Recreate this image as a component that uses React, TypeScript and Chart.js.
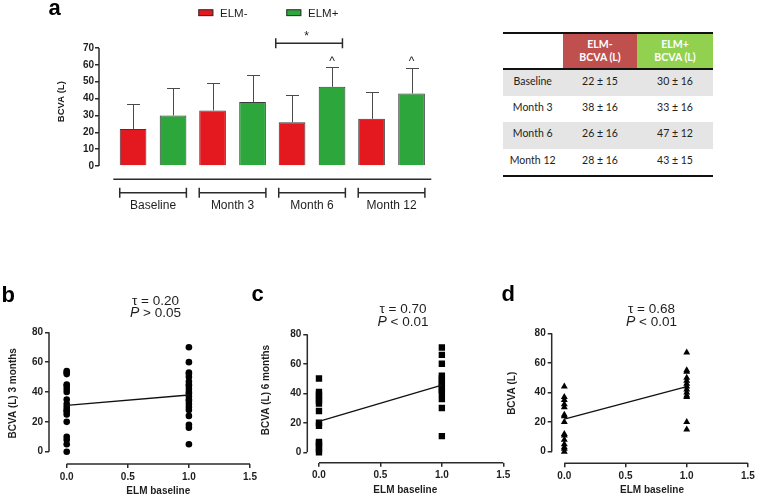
import React, { useEffect, useRef } from 'react';
import { Chart, registerables } from 'chart.js';

Chart.register(...registerables);

const FONT = '"Liberation Sans", Arial, Helvetica, sans-serif';
const TABLE_FONT = 'Lato, "Open Sans", sans-serif';
const INK = '#1e1e1e';
const AXIS = '#2b2b2b';
const RED = '#e3191f';
const GREEN = '#2da63b';

// ---- panel a: BCVA per visit, split by ELM status (mean and SD) ----
const visits = ['Baseline', 'Month 3', 'Month 6', 'Month 12'];
const elmNegMean = [22, 33, 26, 28];
const elmNegSd = [15, 16, 16, 16];
const elmPosMean = [30, 38, 47, 43];
const elmPosSd = [16, 16, 12, 15];
const barTicks = [0, 10, 20, 30, 40, 50, 60, 70];
const starVisits = [2]; // ELM- vs ELM+ compared with a bracket and *
const caretVisits = [2, 3]; // ELM+ bars flagged with ^

// ---- summary table ----
const tableHeaders = [
  ['ELM-', 'BCVA (L)'],
  ['ELM+', 'BCVA (L)'],
];
const tableVisits = ['Baseline', 'Month 3', 'Month 6', 'Month 12'];
const tableElmNeg = ['22 ± 15', '38 ± 16', '26 ± 16', '28 ± 16'];
const tableElmPos = ['30 ± 16', '33 ± 16', '47 ± 12', '43 ± 15'];

// ---- panels b-d: BCVA against baseline ELM (0 = absent, 1 = present) ----
const elmTicks = [0, 0.5, 1.0, 1.5];
const scatterTicks = [0, 20, 40, 60, 80];

const month3Absent = [0, 5, 8, 10, 20, 25, 27, 28, 30, 32, 35, 40, 42, 44, 45, 52, 53, 54];
const month3Present = [5, 16, 18, 24, 28, 30, 32, 34, 35, 37, 39, 40, 42, 44, 45, 47, 50, 52, 53, 60, 70];
const month3Fit = [31, 38];

const month6Absent = [0, 2, 4, 6, 7, 18, 20, 28, 33, 35, 37, 39, 41, 50];
const month6Present = [11, 30, 36, 40, 42, 44, 46, 48, 50, 52, 60, 66, 71];
const month6Fit = [21, 45.5];

const finalAbsent = [0, 2, 3, 5, 8, 11, 12, 20, 24, 25, 30, 32, 35, 37, 44];
const finalPresent = [15, 20, 37, 38, 40, 42, 44, 46, 48, 50, 54, 55, 67];
const finalFit = [22, 44];

const kendallTau = ['0.20', '0.70', '0.68'];
const pValues = ['> 0.05', '< 0.01', '< 0.01'];

const ticksFrom = (values: number[]) => (axis: any) => {
  axis.ticks = values.map((v) => ({ value: v }));
};

// error bars, legend, significance marks and the grouped category axis
const barDecor = {
  id: 'barDecor',
  afterDatasetsDraw(chart: any) {
    const { ctx } = chart;
    const y = chart.scales.y;
    ctx.save();
    ctx.strokeStyle = '#4a4a4a';
    ctx.lineWidth = 1;
    chart.data.datasets.forEach((ds: any, di: number) => {
      chart.getDatasetMeta(di).data.forEach((bar: any, i: number) => {
        const mean = ds.data[i].y;
        const yTop = Math.round(y.getPixelForValue(mean + ds.sd[i])) + 0.5;
        const xc = Math.round(bar.x) + 0.5;
        ctx.beginPath();
        ctx.moveTo(xc, bar.y);
        ctx.lineTo(xc, yTop);
        ctx.moveTo(xc - 6.5, yTop);
        ctx.lineTo(xc + 6.5, yTop);
        ctx.stroke();
      });
    });
    ctx.restore();
  },
  afterDraw(chart: any) {
    const { ctx, chartArea } = chart;
    const x = chart.scales.x;
    const y = chart.scales.y;
    const neg = chart.getDatasetMeta(0).data;
    const pos = chart.getDatasetMeta(1).data;
    ctx.save();

    // value axis line, 0..70
    ctx.strokeStyle = AXIS;
    ctx.lineWidth = 1.5;
    ctx.beginPath();
    ctx.moveTo(chartArea.left, y.getPixelForValue(barTicks[0]));
    ctx.lineTo(chartArea.left, y.getPixelForValue(barTicks[barTicks.length - 1]));
    ctx.stroke();

    // panel letter
    ctx.fillStyle = '#000';
    ctx.font = `bold 22px ${FONT}`;
    ctx.textAlign = 'left';
    ctx.textBaseline = 'alphabetic';
    ctx.fillText('a', 48.6, 15);

    // legend
    const legendX = [198.3, 286.3];
    chart.data.datasets.forEach((ds: any, i: number) => {
      const bx = legendX[i];
      ctx.fillStyle = ds.backgroundColor;
      ctx.fillRect(bx, 9.3, 15, 6.8);
      ctx.strokeStyle = '#333';
      ctx.lineWidth = 1;
      ctx.strokeRect(bx + 0.5, 9.8, 14, 5.8);
      ctx.fillStyle = INK;
      ctx.font = `11.5px ${FONT}`;
      ctx.fillText(ds.label, bx + 21.7, 16.7);
    });

    // significance bracket with *
    ctx.strokeStyle = AXIS;
    ctx.lineWidth = 1.5;
    ctx.fillStyle = INK;
    starVisits.forEach((i) => {
      const l = neg[i].x - 16.3;
      const r = pos[i].x + 10.4;
      const by = 43.3;
      ctx.beginPath();
      ctx.moveTo(l, by);
      ctx.lineTo(r, by);
      ctx.moveTo(l, by - 5);
      ctx.lineTo(l, by + 5);
      ctx.moveTo(r, by - 5);
      ctx.lineTo(r, by + 5);
      ctx.stroke();
      ctx.font = `12px ${FONT}`;
      ctx.textAlign = 'center';
      ctx.fillText('*', (l + r) / 2 - 2.6, 40);
    });
    caretVisits.forEach((i) => {
      ctx.font = `12px ${FONT}`;
      ctx.textAlign = 'center';
      ctx.fillText('^', pos[i].x, 64.5);
    });

    // grouped category axis
    const lineY = 179.3;
    ctx.beginPath();
    ctx.moveTo(x.getPixelForValue(-0.5), lineY);
    ctx.lineTo(x.getPixelForValue(visits.length - 0.5), lineY);
    ctx.stroke();
    visits.forEach((label, i) => {
      const l = neg[i].x - neg[i].width / 2;
      const r = pos[i].x + pos[i].width / 2;
      const by = 192.7;
      ctx.beginPath();
      ctx.moveTo(l, by);
      ctx.lineTo(r, by);
      ctx.moveTo(l, by - 5);
      ctx.lineTo(l, by + 5);
      ctx.moveTo(r, by - 5);
      ctx.lineTo(r, by + 5);
      ctx.stroke();
      ctx.font = `12px ${FONT}`;
      ctx.textAlign = 'center';
      ctx.textBaseline = 'alphabetic';
      ctx.fillStyle = INK;
      ctx.fillText(label, x.getPixelForValue(i), 209.3);
    });
    ctx.restore();
  },
};

function buildBarConfig(): any {
  const series = (means: number[]) => visits.map((_, i) => ({ x: i, y: means[i] }));
  const common = {
    borderColor: '#3a3a3a',
    borderWidth: 1,
    categoryPercentage: 1.006,
    barPercentage: 0.667,
  };
  return {
    type: 'bar',
    data: {
      datasets: [
        { label: 'ELM-', data: series(elmNegMean), sd: elmNegSd, backgroundColor: RED, ...common },
        { label: 'ELM+', data: series(elmPosMean), sd: elmPosSd, backgroundColor: GREEN, ...common },
      ],
    },
    options: {
      responsive: false,
      animation: false,
      events: [],
      layout: { padding: { left: 0, top: 37.4, right: 48.7, bottom: 59 } },
      scales: {
        x: {
          type: 'linear',
          display: false,
          offset: false,
          grid: { offset: false },
          min: -0.68,
          max: 3.5,
          afterBuildTicks: ticksFrom(visits.map((_, i) => i)),
        },
        y: {
          min: 0,
          max: 76.3,
          afterBuildTicks: ticksFrom(barTicks),
          afterFit: (axis: any) => {
            axis.width = 99;
          },
          border: { display: false },
          grid: { drawOnChartArea: false, drawTicks: true, tickLength: 4, color: AXIS, lineWidth: 1.5 },
          ticks: { font: { family: FONT, size: 10, weight: 'bold' }, color: INK, padding: 1 },
          title: {
            display: true,
            text: 'BCVA (L)',
            color: INK,
            font: { family: FONT, size: 9.5, weight: 'bold' },
            padding: { top: 56, bottom: 0 },
          },
        },
      },
      plugins: { legend: { display: false }, tooltip: { enabled: false } },
    },
    plugins: [barDecor],
  };
}

// offset axis lines, statistics text and panel letter for b-d
const scatterDecor = {
  id: 'scatterDecor',
  afterDraw(chart: any, _args: any, opts: any) {
    const { ctx, chartArea } = chart;
    const x = chart.scales.x;
    const y = chart.scales.y;
    ctx.save();
    ctx.strokeStyle = AXIS;
    ctx.lineWidth = 1.5;
    ctx.beginPath();
    ctx.moveTo(x.getPixelForValue(elmTicks[0]), chartArea.bottom);
    ctx.lineTo(x.getPixelForValue(elmTicks[elmTicks.length - 1]), chartArea.bottom);
    ctx.moveTo(chartArea.left, y.getPixelForValue(scatterTicks[0]));
    ctx.lineTo(chartArea.left, y.getPixelForValue(scatterTicks[scatterTicks.length - 1]));
    ctx.stroke();

    ctx.fillStyle = INK;
    ctx.textBaseline = 'middle';
    ctx.textAlign = 'center';
    ctx.font = `13.5px ${FONT}`;
    ctx.fillText(`τ = ${opts.tau}`, opts.noteX, opts.tauY);

    ctx.font = `italic 14px ${FONT}`;
    const wP = ctx.measureText('P').width;
    ctx.font = `13.5px ${FONT}`;
    const rest = ` ${opts.p}`;
    const wR = ctx.measureText(rest).width;
    const start = opts.noteX - (wP + wR) / 2;
    ctx.textAlign = 'left';
    ctx.font = `italic 14px ${FONT}`;
    ctx.fillText('P', start, opts.pY);
    ctx.font = `13.5px ${FONT}`;
    ctx.fillText(rest, start + wP, opts.pY);

    ctx.fillStyle = '#000';
    ctx.textBaseline = 'alphabetic';
    ctx.font = `bold 22px ${FONT}`;
    ctx.fillText(opts.letter, opts.letterX, opts.letterY);
    ctx.restore();
  },
};

type ScatterPanel = {
  letter: string;
  left: number;
  top: number;
  width: number;
  height: number;
  yTitle: string;
  absent: number[];
  present: number[];
  fit: number[];
  tau: string;
  p: string;
  pointStyle: string;
  radius: number;
  xMin: number;
  xMax: number;
  yMin: number;
  yMax: number;
  padTop: number;
  padRight: number;
  yAxisWidth: number;
  xAxisHeight: number;
  yTitlePad: number;
  xTitlePad: number;
  noteX: number;
  tauY: number;
  pY: number;
};

const scatterPanels: ScatterPanel[] = [
  {
    letter: 'b', left: 0, top: 280, width: 275, height: 218,
    yTitle: 'BCVA (L) 3 months', absent: month3Absent, present: month3Present, fit: month3Fit,
    tau: kendallTau[0], p: pValues[0], pointStyle: 'circle', radius: 3.3,
    xMin: -0.145, xMax: 1.644, yMin: -8.24, yMax: 86.5,
    padTop: 42.6, padRight: 7.4, yAxisWidth: 49, xAxisHeight: 34, yTitlePad: 7.3, xTitlePad: 0.3,
    noteX: 155.5, tauY: 21, pY: 32.8,
  },
  {
    letter: 'c', left: 250, top: 280, width: 270, height: 218,
    yTitle: 'BCVA (L) 6 months', absent: month6Absent, present: month6Present, fit: month6Fit,
    tau: kendallTau[1], p: pValues[1], pointStyle: 'rect', radius: 4.5,
    xMin: -0.095, xMax: 1.5, yMin: -7.05, yMax: 91.5,
    padTop: 37.3, padRight: 16.7, yAxisWidth: 57.3, xAxisHeight: 35.3, yTitlePad: 10.7, xTitlePad: 1.3,
    noteX: 153, tauY: 29.3, pY: 42.3,
  },
  {
    letter: 'd', left: 500, top: 280, width: 258, height: 218,
    yTitle: 'BCVA (L)', absent: finalAbsent, present: finalPresent, fit: finalFit,
    tau: kendallTau[2], p: pValues[2], pointStyle: 'triangle', radius: 4,
    xMin: -0.103, xMax: 1.536, yMin: -7.84, yMax: 86.8,
    padTop: 43.3, padRight: 5.3, yAxisWidth: 51.7, xAxisHeight: 34.7, yTitlePad: 6.7, xTitlePad: 2,
    noteX: 151.5, tauY: 29.3, pY: 42.3,
  },
];

function buildScatterConfig(p: ScatterPanel): any {
  const points = [
    ...p.absent.map((v) => ({ x: 0, y: v })),
    ...p.present.map((v) => ({ x: 1, y: v })),
  ];
  const tickFont = { family: FONT, size: 10, weight: 'bold' };
  const titleFont = { family: FONT, size: 10, weight: 'bold' };
  return {
    type: 'scatter',
    data: {
      datasets: [
        {
          type: 'line',
          data: [
            { x: 0, y: p.fit[0] },
            { x: 1, y: p.fit[1] },
          ],
          borderColor: '#111',
          borderWidth: 1.3,
          pointRadius: 0,
          fill: false,
        },
        {
          data: points,
          pointStyle: p.pointStyle,
          pointRadius: p.radius,
          backgroundColor: '#000',
          borderColor: '#000',
          borderWidth: 0,
        },
      ],
    },
    options: {
      responsive: false,
      animation: false,
      events: [],
      layout: { padding: { left: 0, top: p.padTop, right: p.padRight, bottom: 0 } },
      scales: {
        x: {
          type: 'linear',
          min: p.xMin,
          max: p.xMax,
          afterBuildTicks: ticksFrom(elmTicks),
          afterFit: (axis: any) => {
            axis.height = p.xAxisHeight;
          },
          border: { display: false },
          grid: { drawOnChartArea: false, drawTicks: true, tickLength: 4, color: AXIS, lineWidth: 1.5 },
          ticks: {
            font: tickFont,
            color: INK,
            padding: 3,
            maxRotation: 0,
            autoSkip: false,
            callback: (v: any) => Number(v).toFixed(1),
          },
          title: {
            display: true,
            text: 'ELM baseline',
            color: INK,
            font: titleFont,
            padding: { top: 0, bottom: p.xTitlePad },
          },
        },
        y: {
          type: 'linear',
          min: p.yMin,
          max: p.yMax,
          afterBuildTicks: ticksFrom(scatterTicks),
          afterFit: (axis: any) => {
            axis.width = p.yAxisWidth;
          },
          border: { display: false },
          grid: { drawOnChartArea: false, drawTicks: true, tickLength: 4, color: AXIS, lineWidth: 1.5 },
          ticks: { font: tickFont, color: INK, padding: 2, autoSkip: false },
          title: {
            display: true,
            text: p.yTitle,
            color: INK,
            font: titleFont,
            padding: { top: p.yTitlePad, bottom: 0 },
          },
        },
      },
      plugins: {
        legend: { display: false },
        tooltip: { enabled: false },
        scatterDecor: {
          letter: p.letter,
          letterX: 1.5,
          letterY: p.letter === 'b' ? 22 : 21,
          tau: p.tau,
          p: p.p,
          noteX: p.noteX,
          tauY: p.tauY,
          pY: p.pY,
        },
      },
    },
    plugins: [scatterDecor],
  };
}

function ChartCanvas(props: { left: number; top: number; width: number; height: number; build: () => any }) {
  const ref = useRef<HTMLCanvasElement>(null);
  useEffect(() => {
    const chart = new Chart(ref.current as HTMLCanvasElement, props.build());
    return () => chart.destroy();
  }, []);
  return (
    <canvas
      ref={ref}
      width={props.width}
      height={props.height}
      style={{ position: 'absolute', left: props.left, top: props.top, width: props.width, height: props.height }}
    />
  );
}

function SummaryTable() {
  const colW = [60, 74.6, 75.4];
  const headerBg = ['#c0504d', '#92d050'];
  const rule = (key: string) => <div key={key} style={{ height: 2, background: '#111' }} />;
  const cellStyle = (w: number): React.CSSProperties => ({
    width: w,
    display: 'flex',
    alignItems: 'center',
    justifyContent: 'center',
    textAlign: 'center',
    boxSizing: 'border-box',
  });
  return (
    <div
      style={{
        position: 'absolute',
        left: 502.7,
        top: 32,
        width: 210,
        fontFamily: TABLE_FONT,
        fontSize: 10.5,
        color: '#222',
      }}
    >
      {rule('top')}
      <div style={{ display: 'flex', height: 33.5 }}>
        <div style={cellStyle(colW[0])} />
        {tableHeaders.map((lines, i) => (
          <div
            key={lines[0]}
            style={{
              ...cellStyle(colW[i + 1]),
              flexDirection: 'column',
              background: headerBg[i],
              color: '#fff',
              fontWeight: 700,
              lineHeight: '12.7px',
            }}
          >
            {lines.map((t) => (
              <span key={t}>{t}</span>
            ))}
          </div>
        ))}
      </div>
      {rule('mid')}
      {tableVisits.map((v, i) => (
        <div key={v} style={{ display: 'flex', height: 26.4, background: i % 2 === 0 ? '#e5e5e5' : '#fff' }}>
          {[v, tableElmNeg[i], tableElmPos[i]].map((t, c) => (
            <div key={c} style={{ ...cellStyle(colW[c]), paddingBottom: 4 }}>
              {t}
            </div>
          ))}
        </div>
      ))}
      {rule('bottom')}
    </div>
  );
}

export default function App() {
  return (
    <div
      style={{
        position: 'fixed',
        left: 0,
        top: 0,
        width: 758,
        height: 498,
        background: '#fff',
        overflow: 'hidden',
      }}
    >
      <ChartCanvas left={0} top={0} width={480} height={225} build={buildBarConfig} />
      <SummaryTable />
      {scatterPanels.map((p) => (
        <ChartCanvas
          key={p.letter}
          left={p.left}
          top={p.top}
          width={p.width}
          height={p.height}
          build={() => buildScatterConfig(p)}
        />
      ))}
    </div>
  );
}
